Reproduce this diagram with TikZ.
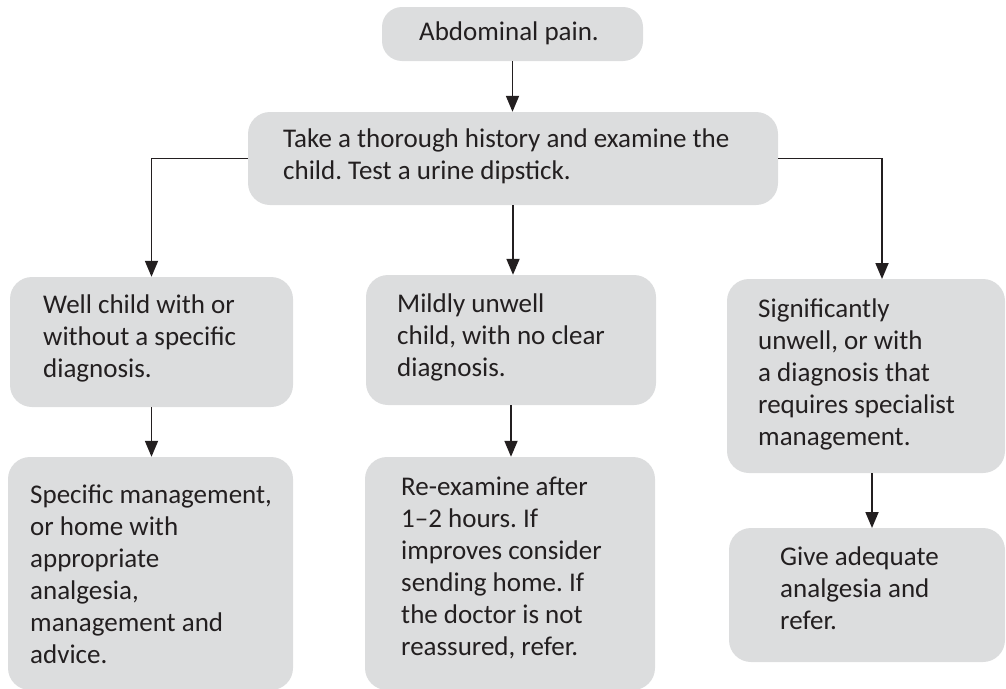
\documentclass[tikz,border=0pt]{standalone}
\usepackage{fontspec}
\setmainfont{Carlito}
\usetikzlibrary{arrows.meta}
\definecolor{boxfill}{RGB}{220,221,222}
\definecolor{ink}{RGB}{35,31,32}
\frenchspacing
\begin{document}
\begin{tikzpicture}[x=1pt,y=-1pt,
  box/.style={draw=none,fill=boxfill,rounded corners=22pt,inner sep=0pt,minimum width=#1},
  txt/.style={anchor=north west,inner sep=0pt,align=left,text=ink,font=\fontsize{27}{32}\selectfont},
  arr/.style={draw=ink,line width=1.8pt,-{Triangle[width=13pt,length=16pt]}}]
\useasboundingbox (0,0) rectangle (1006,688);

% boxes
\node[box=261pt,minimum height=54pt,rounded corners=20pt] (A) at (512.5,34) {};
\node[box=530pt,minimum height=93pt] (B) at (513,158.5) {};
\node[box=283pt,minimum height=130pt] (C1) at (151.5,342) {};
\node[box=290pt,minimum height=130pt] (C2) at (511,340) {};
\node[box=278pt,minimum height=194pt] (C3) at (866,376) {};
\node[box=285pt,minimum height=233pt] (D1) at (150.5,573.5) {};
\node[box=290pt,minimum height=233pt] (D2) at (510,573.5) {};
\node[box=276pt,minimum height=134pt] (D3) at (867,595) {};

% texts
\node[txt,anchor=base] (tA) at (509,40) {Abdominal pain.};
\node[txt] (tB) at (283,124.6) {\strut Take a thorough history and examine the\\child. Test a urine dipstick.};
\node[txt] (tC1) at (43,290.6) {\strut Well child with or\\without a specific\\diagnosis.};
\node[txt] (tC2) at (397,289.6) {\strut Mildly unwell\\child, with no clear\\diagnosis.};
\node[txt] (tC3) at (758,294.6) {\strut Significantly\\unwell, or with\\a diagnosis that\\requires specialist\\management.};
\node[txt] (tD1) at (30,480.6) {\strut Specific management,\\or home with\\appropriate\\analgesia,\\management and\\advice.};
\node[txt] (tD2) at (401,472.6) {\strut Re-examine after\\1–2 hours. If\\improves consider\\sending home. If\\the doctor is not\\reassured, refer.};
\node[txt] (tD3) at (780,542.6) {\strut Give adequate\\analgesia and\\refer.};

% connectors
\coordinate (c3in) at (882,279);
\coordinate (d3in) at (872,528);
\draw[arr] (A) -- (A.south |- B.north);
\draw[arr] (B.west) -| (C1.north);
\draw[arr] (B.east) -| (c3in);
\draw[arr] (B.south) -- (B.south |- C2.north);
\draw[arr] (C1.south) -- (C1.south |- D1.north);
\draw[arr] (C2.south) -- (C2.south |- D2.north);
\draw[arr] (C3.south -| d3in) -- (d3in);
\end{tikzpicture}
\end{document}
